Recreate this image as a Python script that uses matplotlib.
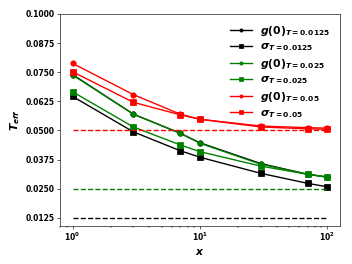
import numpy as np
import matplotlib
matplotlib.use('Agg')
import matplotlib.pyplot as plt

plt.rcParams['font.weight'] = 'bold'
plt.rcParams['mathtext.fontset'] = 'custom'
plt.rcParams['mathtext.it'] = 'DejaVu Sans:italic:bold'
plt.rcParams['mathtext.rm'] = 'DejaVu Sans:bold'
plt.rcParams['mathtext.bf'] = 'DejaVu Sans:bold'

x = [1, 3, 7, 10, 30, 70, 100]

g0_T0125 = [0.0740, 0.0570, 0.0488, 0.0447, 0.0358, 0.0312, 0.0300]
sig_T0125 = [0.0646, 0.0494, 0.0413, 0.0385, 0.0316, 0.0273, 0.0258]
g0_T025 = [0.0738, 0.0570, 0.0488, 0.0445, 0.0355, 0.0312, 0.0300]
sig_T025 = [0.0666, 0.0515, 0.0438, 0.0409, 0.0347, 0.0312, 0.0299]
g0_T05 = [0.0788, 0.0654, 0.0570, 0.0548, 0.0519, 0.0512, 0.0510]
sig_T05 = [0.0752, 0.0621, 0.0567, 0.0548, 0.0515, 0.0507, 0.0505]

temps = [0.0125, 0.025, 0.05]
colors = ['black', 'green', 'red']

fig, ax = plt.subplots(figsize=(6.4, 4.8), dpi=55)
fig.subplots_adjust(left=0.17, right=0.966, top=0.947, bottom=0.145)

series = [(g0_T0125, sig_T0125), (g0_T025, sig_T025), (g0_T05, sig_T05)]
for (g0, sig), T, c in zip(series, temps, colors):
    ax.plot(x, g0, marker='o', color=c, lw=1.8, ms=7, label=r'$g(0)_{T=%s}$' % T)
    ax.plot(x, sig, marker='s', color=c, lw=1.8, ms=7, label=r'$\sigma_{T=%s}$' % T)

for T, c in zip(temps, colors):
    ax.hlines(T, 1, 100, colors=c, linestyles='dashed', lw=1.8)

ax.set_xscale('log')
ax.set_ylim(0.0091, 0.1)
ax.set_yticks(np.arange(0.0125, 0.1001, 0.0125))
ax.yaxis.set_major_formatter(matplotlib.ticker.FormatStrFormatter('%.4f'))
ax.set_xlabel(r'$x$', fontsize=14)
ax.set_ylabel(r'$T_{eff}$', fontsize=14)
ax.legend(loc='upper right', frameon=False, fontsize=14, markerscale=0.6,
          handlelength=2.0, labelspacing=0.35)

plt.savefig('out.png')
